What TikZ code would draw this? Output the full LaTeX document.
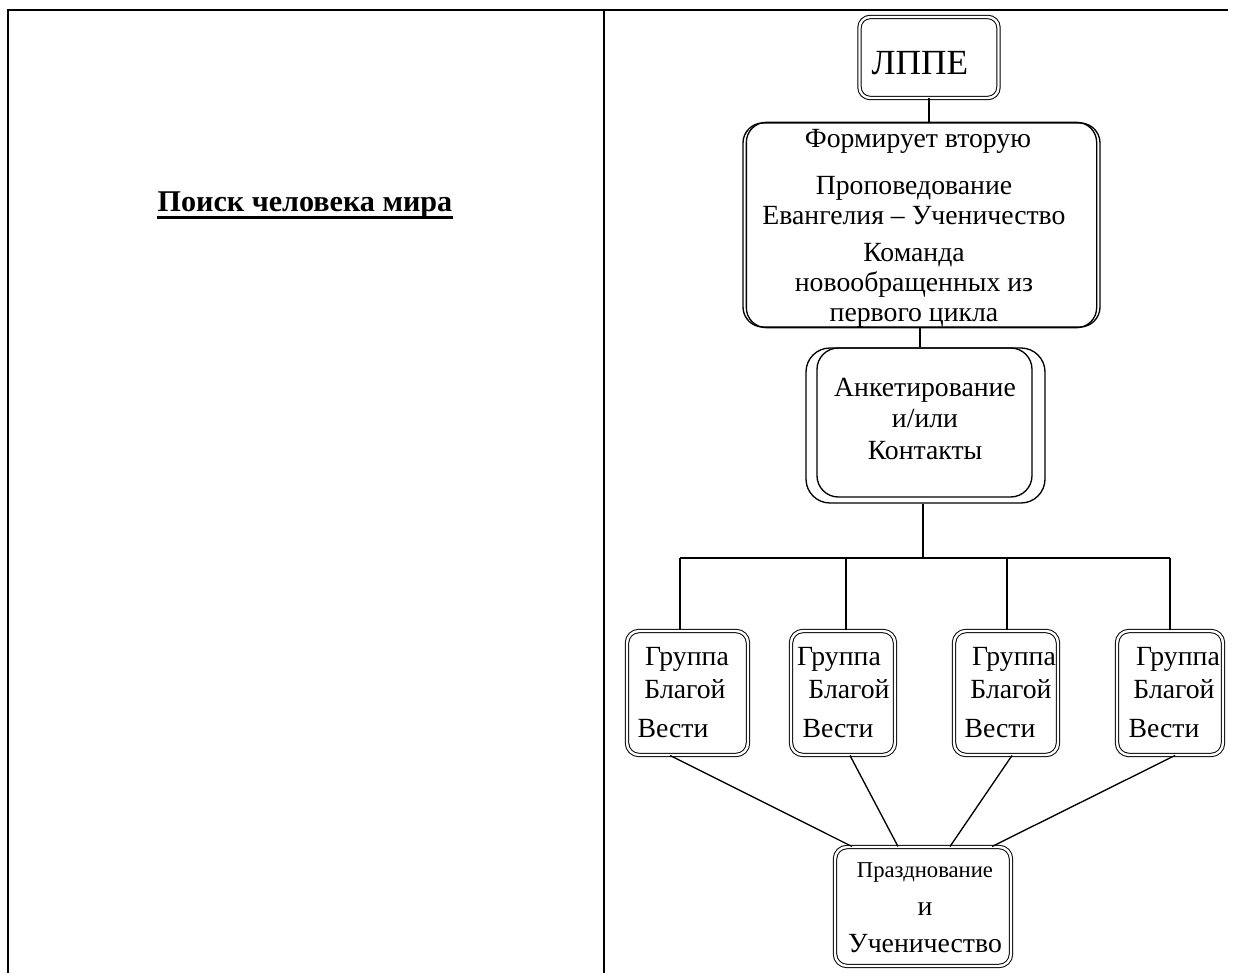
\documentclass[tikz,border=0pt]{standalone}
\usepackage{fontspec}
\setmainfont{Liberation Serif}
\begin{document}
\begin{tikzpicture}[x=0.75pt,y=-0.75pt,
  dbox/.style={draw, double, double distance=1.8pt, line width=0.75pt, rounded corners=9pt, inner sep=0pt},
  sbox/.style={draw, line width=1pt, rounded corners=15pt, inner sep=0pt},
  txt/.style={anchor=base, inner sep=0pt, font=\fontsize{20.8}{24}\selectfont},
  smalltxt/.style={anchor=base, inner sep=0pt, font=\fontsize{17}{20}\selectfont},
  conn/.style={line width=1pt},
  rule/.style={line width=1.5pt}]
\useasboundingbox (0,0) rectangle (1233,973);
% table
\draw[line width=1.1pt] (7,10) -- (1228,10);
\draw[rule] (8,10) -- (8,973);
\draw[rule] (604,10) -- (604,973);
\node[anchor=base, inner sep=0pt, font=\bfseries\fontsize{22.6}{26}\selectfont] (title) at (305,212) {Поиск человека мира};
\draw[line width=2.2pt] ([yshift=-4pt]title.base west) -- ([yshift=-4pt]title.base east);
% LPPE
\node[dbox, minimum width=104.25pt, minimum height=60.75pt, rounded corners=8pt] (lppe) at (929,57.5) {};
\node[txt, font=\fontsize{26.5}{30}\selectfont] (lppet) at (920,75) {ЛППЕ};
% box 2
\node[sbox, minimum width=267.75pt, minimum height=153pt] (b2) at (921.5,225) {};
\draw[conn, rounded corners=15pt] ([xshift=3pt]b2.north west) rectangle ([xshift=-3pt]b2.south east);
\node[txt] (t1) at (918,148) {Формирует вторую};
\node[txt] (t2) at (914,195) {Проповедование};
\node[txt] (t3) at (914,225) {Евангелия – Ученичество};
\node[txt] (t4) at (914,262) {Команда};
\node[txt] (t5) at (914,292) {новообращенных из};
\node[txt] (t6) at (914,322) {первого цикла};
% box 3
\node[sbox, rounded corners=18pt, minimum width=179.25pt, minimum height=116.25pt] (b3) at (925.5,425.5) {};
\node[sbox, rounded corners=16pt, minimum width=161.25pt, minimum height=111.75pt] (b3i) at (924.5,422.5) {};
\node[txt] (a1) at (925,397) {Анкетирование};
\node[txt] (a2) at (925,428) {и/или};
\node[txt] (a3) at (925,460) {Контакты};
% groups
\node[dbox, minimum width=90.75pt, minimum height=93pt] (g1) at (687.5,693) {};
\node[dbox, minimum width=78pt, minimum height=93pt] (g2) at (843,693) {};
\node[dbox, minimum width=78pt, minimum height=93pt] (g3) at (1006,693) {};
\node[dbox, minimum width=79.5pt, minimum height=93pt] (g4) at (1170,693) {};
\node[txt] (g1a) at (687,666) {Группа};
\node[txt] (g1b) at (685,698) {Благой};
\node[txt] (g1c) at (673,737) {Вести};
\node[txt] (g2a) at (839,666) {Группа};
\node[txt] (g2b) at (849,698) {Благой};
\node[txt] (g2c) at (838,737) {Вести};
\node[txt] (g3a) at (1014,666) {Группа};
\node[txt] (g3b) at (1011,698) {Благой};
\node[txt] (g3c) at (1000,737) {Вести};
\node[txt] (g4a) at (1178,666) {Группа};
\node[txt] (g4b) at (1174,698) {Благой};
\node[txt] (g4c) at (1164,737) {Вести};
% bottom box
\node[dbox, minimum width=132pt, minimum height=89.25pt] (pr) at (923,906.5) {};
\node[smalltxt] (p1) at (925,877) {Празднование};
\node[txt] (p2) at (925,915) {и};
\node[txt] (p3) at (925,952) {Ученичество};
% connectors
\coordinate (j2) at (920,0);
\coordinate (bus) at (923,558);
\coordinate (busL) at (680,558);
\coordinate (busR) at (1170,558);
\coordinate (v2) at (846,558);
\coordinate (v3) at (1007,558);
\draw[conn] (lppe.south) -- (lppe.south |- b2.north);
\draw[conn] (b2.south -| j2) -- (b3.north -| j2);
\draw[conn] (b3.south -| bus) -- (bus);
\draw[conn] (busL) -- (busR);
\draw[conn] (busL) -- (busL |- g1.north);
\draw[conn] (v2) -- (v2 |- g2.north);
\draw[conn] (v3) -- (v3 |- g3.north);
\draw[conn] (busR) -- (busR |- g4.north);
\draw[conn] ([xshift=-13.1pt]g1.south) -- ([xshift=-53.25pt]pr.north);
\draw[conn] ([xshift=5.25pt]g2.south) -- ([xshift=-18.75pt]pr.north);
\draw[conn] ([xshift=4.5pt]g3.south) -- ([xshift=20.25pt]pr.north);
\draw[conn] ([xshift=3.75pt]g4.south) -- ([xshift=51.75pt]pr.north);
\end{tikzpicture}
\end{document}
